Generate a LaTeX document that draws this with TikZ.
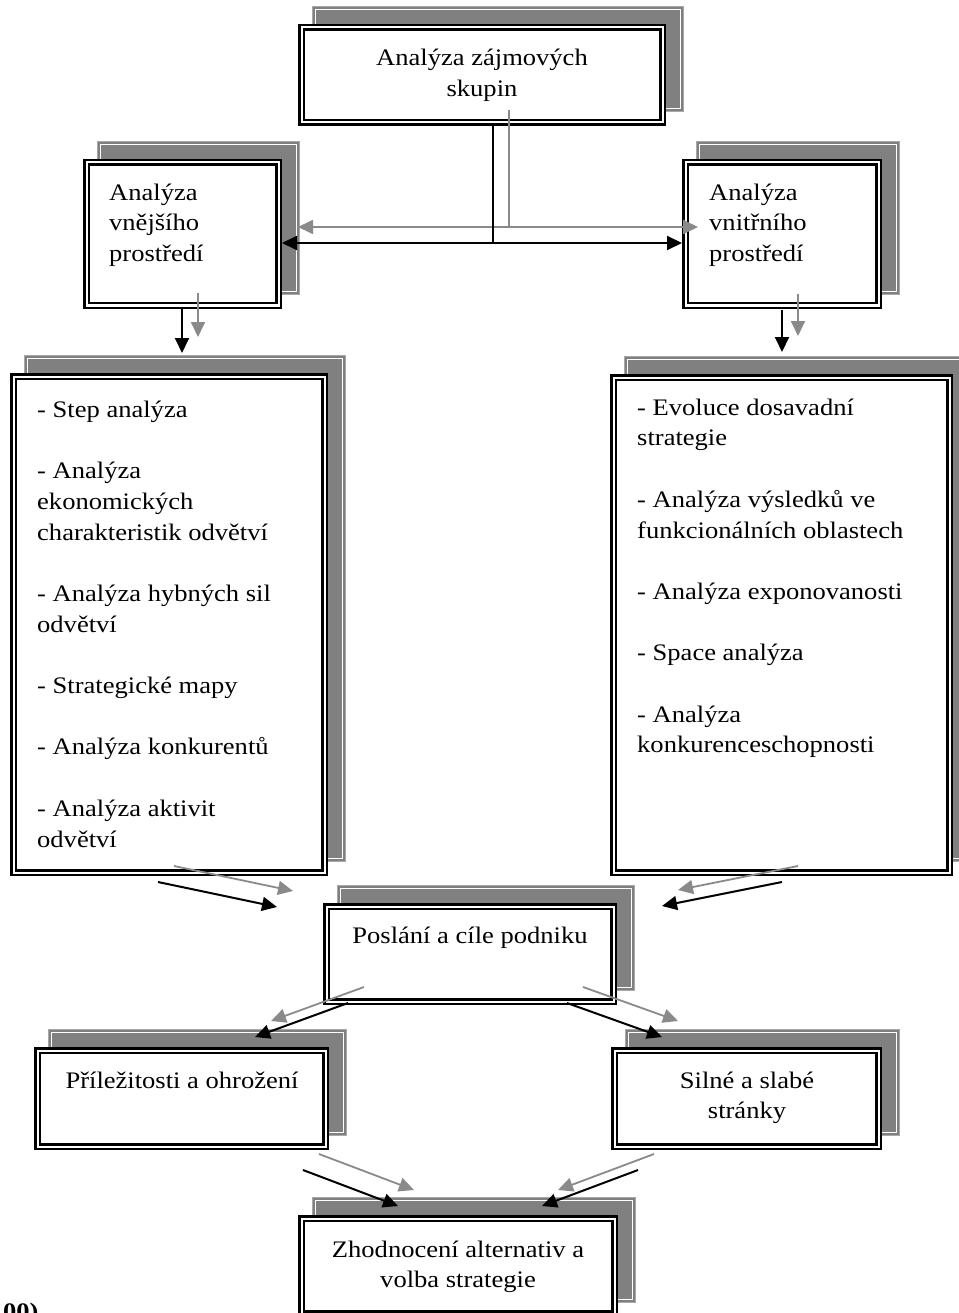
\documentclass[tikz,border=0pt]{standalone}
\usepackage{fontspec}
\setmainfont{Liberation Serif}[FakeStretch=1.12]
\usetikzlibrary{arrows.meta,backgrounds}
\definecolor{shgray}{HTML}{808080}
\definecolor{shedge}{HTML}{A8A8A8}
\definecolor{argray}{HTML}{8A8A8A}
\newcommand\firstln{\rule{0pt}{18pt}}
\newcommand\shbox[1]{%
  \fill[shgray] ([shift={(12.5,-12.5)}]#1.south west) rectangle ([shift={(19.5,-19.5)}]#1.north east);
  \draw[shedge, line width=1.4pt] ([shift={(12.5,-12.5)}]#1.south west) rectangle ([shift={(19.5,-19.5)}]#1.north east);
  \draw[white, line width=0.8pt] ([shift={(15,-15)}]#1.south west) rectangle ([shift={(17,-17)}]#1.north east);
}
\tikzset{
  box/.style={draw=black, line width=2.5pt, double=white, double distance=2pt, fill=white, inner sep=0pt},
  txt/.style={inner sep=0pt, font=\fontsize{23.7}{30.7}\selectfont},
  tip/.style={-{Triangle[length=15pt,width=14pt]}},
  blk/.style={tip, black, line width=2pt},
  blkline/.style={black, line width=2pt},
  gry/.style={tip, argray, line width=1.8pt},
  gryline/.style={argray, line width=1.8pt},
}
\begin{document}
\begin{tikzpicture}[x=1pt,y=-1pt]
\useasboundingbox (0,0) rectangle (958,1313);

% boxes
\node[box, minimum width=361pt, minimum height=95pt] (top) at (482,75) {};
\node[box, minimum width=192pt, minimum height=143pt] (vne) at (182.5,234) {};
\node[box, minimum width=193pt, minimum height=143pt] (vni) at (782,234) {};
\node[box, minimum width=311pt, minimum height=496pt] (bigL) at (169,624.5) {};
\node[box, minimum width=336pt, minimum height=495pt] (bigR) at (781.5,625) {};
\node[box, minimum width=287pt, minimum height=95pt] (mid) at (470,954) {};
\node[box, minimum width=288pt, minimum height=96pt] (opp) at (181.5,1098.5) {};
\node[box, minimum width=264pt, minimum height=96pt] (str) at (746.5,1098.5) {};
\node[box, minimum width=313pt, minimum height=95pt] (bot) at (458,1266) {};

\begin{pgfonlayer}{background}
  \shbox{top}\shbox{vne}\shbox{vni}\shbox{bigL}\shbox{bigR}
  \shbox{mid}\shbox{opp}\shbox{str}\shbox{bot}
\end{pgfonlayer}

% texts
\node[txt, font=\fontsize{23.7}{31.5}\selectfont, anchor=north, align=center] (ttop) at (482,47) {\firstln Analýza zájmových\\skupin};
\node[txt, anchor=north west, align=left] (tvne) at (109,182) {\firstln Analýza\\vnějšího\\prostředí};
\node[txt, anchor=north west, align=left] (tvni) at (709,182) {\firstln Analýza\\vnitřního\\prostředí};
\node[txt, anchor=north west, align=left] (tbigL) at (37,399) {\firstln - Step analýza\\[30.7pt]- Analýza\\ekonomických\\charakteristik odvětví\\[30.7pt]- Analýza hybných sil\\odvětví\\[30.7pt]- Strategické mapy\\[30.7pt]- Analýza konkurentů\\[30.7pt]- Analýza aktivit\\odvětví};
\node[txt, anchor=north west, align=left] (tbigR) at (637,397) {\firstln - Evoluce dosavadní\\strategie\\[30.7pt]- Analýza výsledků ve\\funkcionálních oblastech\\[30.7pt]- Analýza exponovanosti\\[30.7pt]- Space analýza\\[30.7pt]- Analýza\\konkurenceschopnosti};
\node[txt, anchor=north, align=center] (tmid) at (470,925) {\firstln Poslání a cíle podniku};
\node[txt, anchor=north, align=center] (topp) at (182,1070) {\firstln Příležitosti a ohrožení};
\node[txt, anchor=north, align=center] (tstr) at (747,1070) {\firstln Silné a slabé\\stránky};
\node[txt, anchor=north, align=center] (tbot) at (458,1239) {\firstln Zhodnocení alternativ a\\volba strategie};
\node[txt, font=\fontsize{23.7}{30.7}\selectfont\bfseries, anchor=base west] (foot) at (3,1319) {00)};

% connector coordinates (black paths; grey ones are the same shifted by (16,-16))
\coordinate (jA) at (493,126);
\coordinate (jB) at (493,243);
\coordinate (eL) at (282,243);
\coordinate (eR) at (682,243);
\coordinate (dLa) at (182,309);  \coordinate (dLb) at (182,353);
\coordinate (dRa) at (782,310);  \coordinate (dRb) at (782,352);
\coordinate (mLa) at (158,882);  \coordinate (mLb) at (277,907);
\coordinate (mRa) at (782,882);  \coordinate (mRb) at (662,906);
\coordinate (oLa) at (348,1003); \coordinate (oLb) at (255,1037);
\coordinate (oRa) at (567,1003); \coordinate (oRb) at (662,1037);
\coordinate (bLa) at (303,1170); \coordinate (bLb) at (398,1206);
\coordinate (bRa) at (638,1170); \coordinate (bRb) at (542,1206);

% grey arrows
\draw[gryline] ([shift={(16,-16)}]jA) -- ([shift={(16,-16)}]jB);
\draw[gry] ([shift={(16,-16)}]jB) -- ([shift={(16,-16)}]eL);
\draw[gry] ([shift={(16,-16)}]jB) -- ([shift={(16,-16)}]eR);
\foreach \a/\b in {dLa/dLb, dRa/dRb, mLa/mLb, mRa/mRb, oLa/oLb, oRa/oRb, bLa/bLb, bRa/bRb}
  \draw[gry] ([shift={(16,-16)}]\a) -- ([shift={(16,-16)}]\b);

% black arrows
\draw[blkline] (jA) -- (jB);
\draw[blk] (jB) -- (eL);
\draw[blk] (jB) -- (eR);
\foreach \a/\b in {dLa/dLb, dRa/dRb, mLa/mLb, mRa/mRb, oLa/oLb, oRa/oRb, bLa/bLb, bRa/bRb}
  \draw[blk] (\a) -- (\b);
\end{tikzpicture}
\end{document}
